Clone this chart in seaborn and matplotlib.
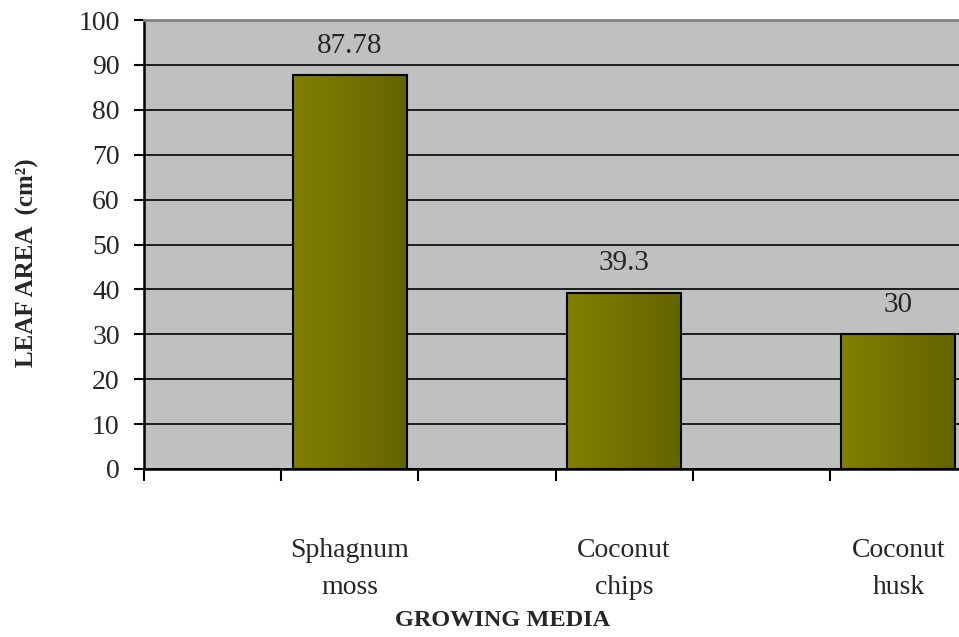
import numpy as np
import pandas as pd
import matplotlib
matplotlib.use("Agg")
import matplotlib.pyplot as plt
import seaborn as sns
from matplotlib.colors import LinearSegmentedColormap

# Data
media = ["Sphagnum\nmoss", "Coconut\nchips", "Coconut\nhusk"]
leaf_area = [87.78, 39.3, 30]
value_labels = ["87.78", "39.3", "30"]
y_ticks = list(range(0, 101, 10))

sns.set_style("white")
plt.rcParams["font.family"] = ["Liberation Serif", "DejaVu Serif"]

df = pd.DataFrame({"media": media, "area": leaf_area})

W, H = 959, 637
fig = plt.figure(figsize=(W / 100, H / 100), dpi=100)
ax = fig.add_axes([144 / W, 1 - 469 / H, (967 - 144) / W, 449 / H])
ax.set_facecolor("#C0C0C0")

sns.barplot(data=df, x="media", y="area", color="#808000", saturation=1,
            width=0.416, edgecolor="black", linewidth=1.5, ax=ax, zorder=3)

# olive left-to-right gradient inside each bar
cmap = LinearSegmentedColormap.from_list("olive", ["#808000", "#646400"])
grad = np.linspace(0, 1, 256).reshape(1, -1)
for patch in list(ax.patches):
    x0, y0 = patch.get_x(), patch.get_y()
    w, h = patch.get_width(), patch.get_height()
    im = ax.imshow(grad, cmap=cmap, extent=(x0, x0 + w, y0, y0 + h),
                   aspect="auto", zorder=3, interpolation="bicubic")
    im.set_clip_path(patch)
    patch.set_facecolor("none")
    patch.set_zorder(4)

ax.set_xlim(-0.75, 2.25)
ax.set_ylim(0, 100)
ax.set_yticks(y_ticks)
ax.set_xticks(range(len(media)))
ax.set_xticklabels(media, fontsize=20, linespacing=1.6)
ax.set_xticks(np.arange(-0.75, 2.3, 0.5), minor=True)

ax.grid(axis="y", color="black", linewidth=1.2, zorder=1)
ax.grid(axis="x", visible=False)
ax.set_axisbelow(True)

ax.tick_params(axis="y", which="major", direction="out", length=7.5,
               width=1.5, pad=10, labelsize=20, color="black", left=True)
ax.tick_params(axis="x", which="major", length=0, pad=50)
ax.tick_params(axis="x", which="minor", direction="out", length=8.5,
               width=1.5, color="black", bottom=True)

for side in ["left", "bottom"]:
    ax.spines[side].set_color("black")
    ax.spines[side].set_linewidth(1.8)
ax.spines["top"].set_color("#808080")
ax.spines["top"].set_linewidth(2)
ax.spines["right"].set_visible(False)

for i, (v, lab) in enumerate(zip(leaf_area, value_labels)):
    ax.annotate(lab, (i, v), xytext=(0, 16), textcoords="offset points",
                ha="center", va="baseline", fontsize=21, zorder=5)

ax.set_xlabel("")
ax.set_ylabel("")
fig.text(503 / W, 1 - 620 / H, "GROWING MEDIA", ha="center", va="center",
         fontsize=17.5, fontweight="bold")
fig.text(27 / W, 1 - 263 / H, "LEAF AREA  (cm²)", ha="center", va="center",
         rotation=90, fontsize=18, fontweight="bold")

fig.savefig("out.png", dpi=100)
